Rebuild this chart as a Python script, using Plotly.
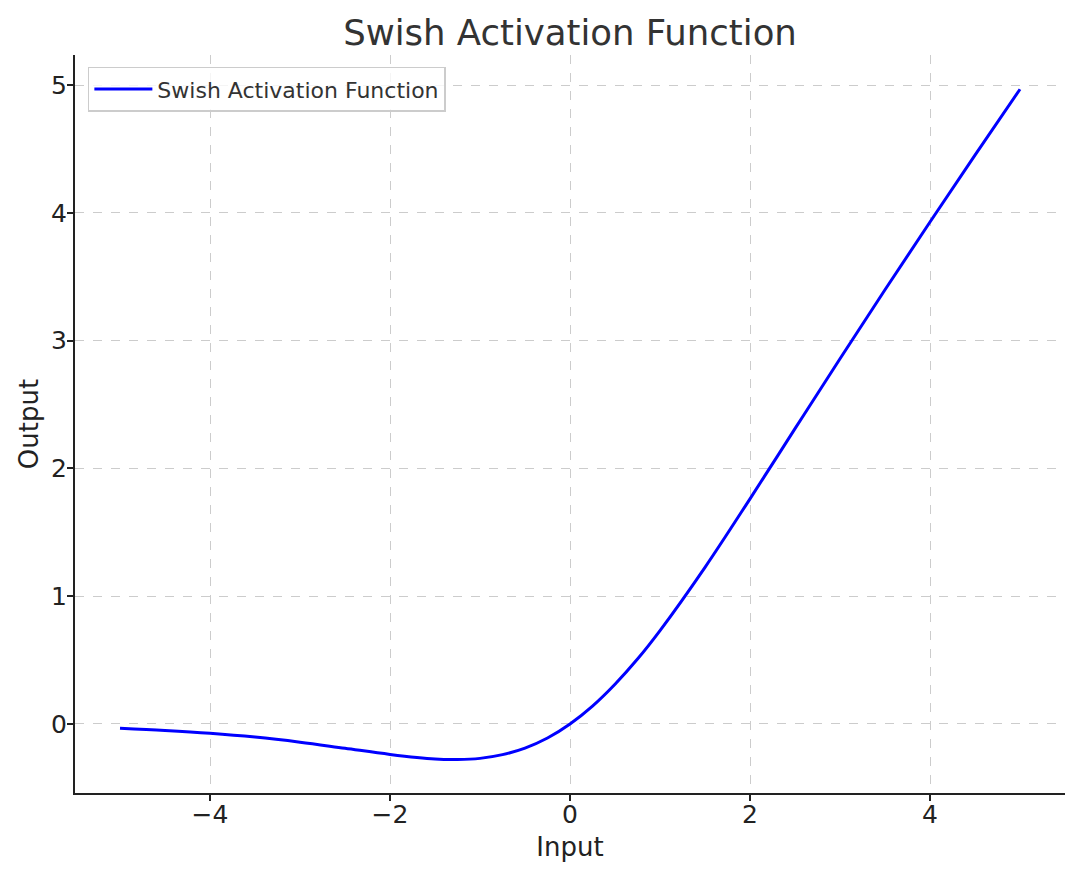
import plotly.graph_objects as go

# Values
x_vals = [-5.0, -4.5, -4.0, -3.5, -3.0, -2.5, -2.0, -1.5, -1.25, -1.0, -0.75, -0.5, -0.25,
          0.0, 0.25, 0.5, 0.75, 1.0, 1.5, 2.0, 2.5, 3.0, 3.5, 4.0, 4.5, 5.0]
y_vals = [-0.033, -0.050, -0.072, -0.102, -0.142, -0.190, -0.238, -0.274, -0.278, -0.269, -0.240,
          -0.189, -0.110, 0.0, 0.140, 0.311, 0.508, 0.731, 1.226, 1.762, 2.311, 2.858, 3.398,
          3.928, 4.451, 4.967]
x_ticks = [-4, -2, 0, 2, 4]
y_ticks = [0, 1, 2, 3, 4, 5]

FONT = "DejaVu Sans"

fig = go.Figure()
fig.add_trace(go.Scatter(
    x=x_vals, y=y_vals, mode="lines", line=dict(color="#0000ff", width=3, shape="spline"),
    name="Swish Activation Function",
))

fig.update_layout(
    width=1080, height=878,
    margin=dict(l=75, r=15, t=55, b=85),
    paper_bgcolor="white", plot_bgcolor="white",
    title=dict(text="Swish Activation Function", x=0.5, xref="paper", xanchor="center",
               y=0.963, yref="container", yanchor="middle",
               font=dict(family=FONT, size=35.5, color="#333333")),
    font=dict(family=FONT, color="#222222"),
    showlegend=True,
    legend=dict(x=0.013, y=0.984, xanchor="left", yanchor="top", itemwidth=58,
                bordercolor="#cccccc", borderwidth=1.5, bgcolor="rgba(255,255,255,0.8)",
                font=dict(family=FONT, size=22, color="#333333")),
)
fig.update_xaxes(
    range=[-5.5, 5.5], tickvals=x_ticks, showgrid=True, gridcolor="#cccccc", griddash="dash",
    gridwidth=1, zeroline=False, showline=True, linecolor="#222222", linewidth=2,
    ticks="outside", ticklen=6, tickwidth=1.5, tickcolor="#222222", ticklabelstandoff=-8,
    tickfont=dict(family=FONT, size=25, color="#222222"),
    title=dict(text="Input", font=dict(family=FONT, size=26, color="#222222"), standoff=10),
)
fig.update_yaxes(
    range=[-0.54, 5.235], tickvals=y_ticks, showgrid=True, gridcolor="#cccccc", griddash="dash",
    gridwidth=1, zeroline=False, showline=True, linecolor="#222222", linewidth=2,
    ticks="outside", ticklen=6, tickwidth=1.5, tickcolor="#222222", ticklabelstandoff=-5,
    tickfont=dict(family=FONT, size=25, color="#222222"),
    title=dict(text="Output", font=dict(family=FONT, size=26, color="#222222"), standoff=5),
)

fig.write_html("out.html", config={"displayModeBar": False},
               post_script="document.body.style.margin='0px';")
